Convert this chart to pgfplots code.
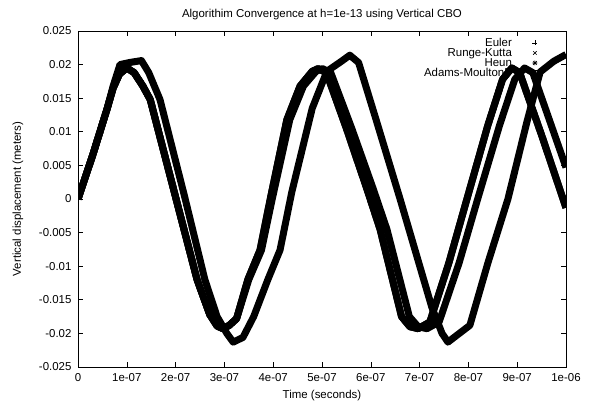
\documentclass[border=0pt]{standalone}
\usepackage{fontspec}
\setmainfont{Liberation Sans}
\usepackage{pgfplots}
\usepackage{pgfplotstable}
\pgfplotsset{compat=1.18}
\pgfdeclareplotmark{gpstar}{%
  \pgfpathmoveto{\pgfqpoint{-\pgfplotmarksize}{0pt}}\pgfpathlineto{\pgfqpoint{\pgfplotmarksize}{0pt}}%
  \pgfpathmoveto{\pgfqpoint{0pt}{-\pgfplotmarksize}}\pgfpathlineto{\pgfqpoint{0pt}{\pgfplotmarksize}}%
  \pgfpathmoveto{\pgfqpoint{-.75\pgfplotmarksize}{-.75\pgfplotmarksize}}\pgfpathlineto{\pgfqpoint{.75\pgfplotmarksize}{.75\pgfplotmarksize}}%
  \pgfpathmoveto{\pgfqpoint{-.75\pgfplotmarksize}{.75\pgfplotmarksize}}\pgfpathlineto{\pgfqpoint{.75\pgfplotmarksize}{-.75\pgfplotmarksize}}%
  \pgfusepathqstroke}

% t in units of 1e-7 s, y in units of 1e-3 m
\pgfplotstableread{
t y
0 0
0.3 6.5
0.6 13.5
0.72 16.5
0.85 18.6
1.0 19.5
1.15 18.8
1.33 16.8
1.48 14.8
2.01 0
2.44 -12.0
2.7 -17.2
2.85 -18.9
2.97 -19.3
3.1 -18.8
3.25 -17.8
3.48 -12.0
3.73 -7.6
3.94 0
4.28 11.8
4.55 16.8
4.8 19.0
4.92 19.4
5.09 18.8
5.5 10.5
5.92 1.5
6.19 -4.5
6.63 -17.5
6.8 -19.0
6.97 -19.3
7.21 -18.3
7.6 -9.5
7.97 0
8.4 11
8.7 17.8
8.89 19.5
9.05 18.8
9.5 9.5
10 -1.3
}\rk

\pgfplotstableread{
t y
0 0
0.3 6.5
0.6 13.5
0.72 16.5
0.85 18.6
1.0 19.5
1.15 18.8
1.33 16.8
1.48 14.8
2.01 0
2.44 -12.0
2.7 -17.2
2.85 -18.9
2.97 -19.3
3.1 -18.8
3.25 -17.8
3.50 -12.0
3.76 -7.6
3.98 0
4.34 11.8
4.62 16.8
4.88 19.0
5.01 19.4
5.18 18.8
5.61 10.5
6.05 1.5
6.33 -4.5
6.79 -17.5
6.97 -19.0
7.15 -19.3
7.40 -18.3
7.81 -9.5
8.19 0
8.64 11
8.95 17.8
9.15 19.5
9.32 18.8
9.6 13
10 4.7
}\euler

\pgfplotstableread{
t y
0 0
0.3 6.5
0.6 13.5
0.72 16.8
0.86 20.0
1.05 20.3
1.3 20.6
1.45 18.8
1.68 14.8
2.18 0.5
2.60 -12.0
2.85 -17.5
3.05 -20.0
3.18 -21.3
3.38 -20.6
3.6 -17.5
3.89 -12.0
4.14 -7.6
4.38 1.0
4.8 13.5
5.10 19.0
5.4 20.5
5.57 21.4
5.75 20.3
6.1 12
6.60 0
7.25 -16.1
7.46 -20.0
7.58 -21.3
8.03 -18.8
8.4 -9.5
8.81 0
9.2 11.5
9.47 18.9
9.75 20.5
10 21.5
}\am

\begin{document}
\begin{tikzpicture}[font=\fontsize{11.5}{13}\selectfont]
\useasboundingbox (0,0) rectangle (589bp,403bp);
\begin{axis}[
  at={(78bp,36bp)}, anchor=south west,
  scale only axis, width=488bp, height=336bp,
  xmin=0, xmax=10, ymin=-25, ymax=25,
  xtick={0,1,...,10},
  xticklabels={0,1e-07,2e-07,3e-07,4e-07,5e-07,6e-07,7e-07,8e-07,9e-07,1e-06},
  ytick={-25,-20,...,25},
  yticklabels={-0.025,-0.02,-0.015,-0.01,-0.005,0,0.005,0.01,0.015,0.02,0.025},
  xtick pos=both, ytick pos=both,
  tick align=inside, major tick length=5bp,
  tick style={black, line width=0.6bp},
  axis line style={black, line width=0.8bp},
  ticklabel style={font=\fontsize{11.5}{13}\selectfont},
  xticklabel style={yshift=-3bp},
  yticklabel style={xshift=-3bp},
  xlabel={Time (seconds)},
  xlabel style={at={(axis description cs:0.5,0)}, anchor=center, yshift=-29bp},
  ylabel={Vertical displacement (meters)},
  ylabel style={at={(axis description cs:-0.123,0.5)}, anchor=center},
  title={Algorithim Convergence at h=1e-13 using Vertical CBO},
  title style={at={(axis description cs:0.5,1)}, anchor=center, yshift=10bp},
  legend style={draw=none, fill=none, anchor=north east,
    at={(rel axis cs:0.948,0.985)}, font=\fontsize{11.5}{13}\selectfont,
    row sep=0.5bp, column sep=20bp,
    nodes={inner sep=0.5bp, text height=7.5bp, text depth=1bp}},
  legend cell align=right, legend plot pos=right,
]
\addplot[black, line width=7bp, line join=round, forget plot] table[x=t,y=y] {\euler};
\addplot[black, line width=7bp, line join=round, forget plot] table[x=t,y=y] {\rk};
\addplot[black, line width=7bp, line join=round, forget plot] table[x=t,y=y] {\rk};
\addplot[black, line width=7bp, line join=round, forget plot] table[x=t,y=y] {\am};
\addlegendimage{black, only marks, mark=+, mark size=2.5bp, line width=0.6bp}
\addlegendentry{Euler}
\addlegendimage{black, only marks, mark=x, mark size=2.5bp, line width=0.6bp}
\addlegendentry{Runge-Kutta}
\addlegendimage{black, only marks, mark=gpstar, mark size=2.5bp, line width=0.6bp}
\addlegendentry{Heun}
\addlegendimage{black, only marks, mark=square, mark size=2.3bp, line width=0.6bp}
\addlegendentry{Adams-MoultonP}
\end{axis}
\end{tikzpicture}
\end{document}
